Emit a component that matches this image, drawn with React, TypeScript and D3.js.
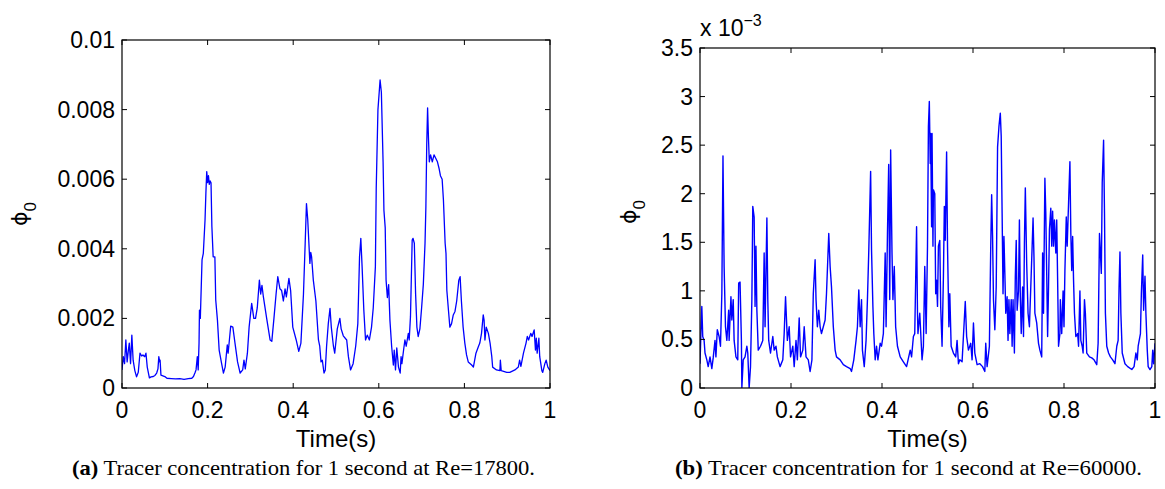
import React from 'react';
import * as d3 from 'd3';

// ---------- Data: panel (a) Re=17800, phi in units of 1e-3 ----------
const timeA = [
  0, 0.003, 0.006, 0.009, 0.012, 0.015, 0.017, 0.02, 0.023, 0.026, 0.03, 0.034, 0.038, 0.042, 0.046, 0.049,
  0.053, 0.056, 0.059, 0.064, 0.068, 0.073, 0.077, 0.081, 0.084, 0.086, 0.088, 0.089, 0.091, 0.1, 0.105, 0.115,
  0.125, 0.135, 0.145, 0.155, 0.163, 0.167, 0.171, 0.173, 0.176, 0.178, 0.18, 0.181, 0.183, 0.187, 0.19, 0.194,
  0.196, 0.198, 0.2, 0.202, 0.204, 0.206, 0.208, 0.21, 0.213, 0.217, 0.219, 0.223, 0.227, 0.232, 0.237, 0.241,
  0.246, 0.248, 0.254, 0.259, 0.264, 0.27, 0.276, 0.282, 0.285, 0.288, 0.293, 0.297, 0.303, 0.308, 0.312, 0.316,
  0.321, 0.324, 0.327, 0.33, 0.338, 0.346, 0.35, 0.355, 0.36, 0.364, 0.369, 0.373, 0.377, 0.381, 0.384, 0.39,
  0.394, 0.399, 0.407, 0.413, 0.418, 0.424, 0.428, 0.431, 0.434, 0.439, 0.441, 0.443, 0.447, 0.453, 0.459, 0.462,
  0.465, 0.468, 0.472, 0.475, 0.478, 0.482, 0.486, 0.489, 0.494, 0.497, 0.503, 0.509, 0.512, 0.517, 0.525, 0.529,
  0.534, 0.54, 0.546, 0.551, 0.555, 0.558, 0.561, 0.565, 0.569, 0.573, 0.578, 0.583, 0.587, 0.592, 0.594, 0.598,
  0.603, 0.606, 0.61, 0.612, 0.615, 0.617, 0.62, 0.623, 0.626, 0.63, 0.634, 0.636, 0.639, 0.642, 0.646, 0.65,
  0.652, 0.654, 0.658, 0.661, 0.664, 0.669, 0.671, 0.674, 0.678, 0.68, 0.683, 0.686, 0.689, 0.692, 0.696, 0.7,
  0.704, 0.708, 0.71, 0.712, 0.714, 0.716, 0.718, 0.721, 0.725, 0.729, 0.733, 0.737, 0.741, 0.744, 0.748, 0.751,
  0.755, 0.757, 0.759, 0.763, 0.766, 0.77, 0.774, 0.778, 0.782, 0.787, 0.79, 0.793, 0.797, 0.801, 0.805, 0.809,
  0.817, 0.821, 0.827, 0.833, 0.836, 0.84, 0.844, 0.846, 0.848, 0.851, 0.856, 0.86, 0.864, 0.866, 0.875, 0.883,
  0.884, 0.886, 0.899, 0.906, 0.918, 0.926, 0.929, 0.932, 0.938, 0.944, 0.947, 0.95, 0.955, 0.958, 0.963, 0.966,
  0.968, 0.97, 0.974, 0.976, 0.981, 0.983, 0.988, 0.991, 0.995, 1.0,
];
const phiA = [
  0.52, 0.9, 0.7, 1.38, 0.75, 1.1, 1.29, 0.7, 1.52, 0.8, 0.5, 0.32, 0.45, 1.0, 0.92, 0.95,
  0.9, 1.0, 0.6, 0.29, 0.32, 0.33, 0.36, 0.43, 0.55, 0.9, 0.75, 0.8, 0.37, 0.33, 0.28, 0.27,
  0.26, 0.27, 0.25, 0.27, 0.28, 0.33, 0.45, 0.52, 0.9, 0.52, 1.29, 2.24, 2.0, 3.68, 3.87, 4.83,
  5.6, 6.22, 5.9, 6.1, 5.85, 5.95, 5.9, 4.64, 3.77, 3.77, 2.53, 1.95, 1.09, 0.75, 0.43, 0.6,
  1.24, 1.0, 1.78, 1.75, 1.29, 0.75, 0.43, 0.52, 0.8, 0.55, 1.0, 1.75, 2.43, 2.0, 2.0, 2.3,
  3.1, 2.7, 2.95, 2.65, 2.0, 1.38, 1.34, 2.0, 2.7, 3.2, 2.85, 2.8, 2.5, 2.85, 2.62, 3.15,
  2.8, 1.75, 1.38, 1.05, 1.29, 2.7, 4.16, 5.3, 4.83, 3.58, 3.9, 3.77, 3.1, 2.5, 1.38, 1.2,
  0.75, 0.8, 0.43, 0.52, 1.2, 1.85, 2.29, 1.75, 1.2, 1.0, 1.7, 2.0, 1.7, 1.5, 1.38, 0.9,
  0.52, 0.7, 1.2, 1.85, 3.77, 4.3, 3.48, 2.24, 1.38, 1.52, 1.38, 1.75, 2.3, 3.48, 5.75, 8.0,
  8.85, 8.5, 6.5, 5.1, 4.6, 3.1, 2.6, 2.97, 1.95, 1.2, 0.66, 1.09, 0.52, 1.15, 0.6, 0.43,
  0.9, 0.7, 1.1, 1.38, 1.2, 1.57, 1.38, 2.05, 4.25, 4.3, 4.16, 2.7, 1.75, 1.48, 1.7, 2.3,
  2.97, 4.16, 5.2, 7.0, 8.05, 7.2, 6.5, 6.7, 6.5, 6.7, 6.6, 6.5, 6.3, 6.1, 6.0, 5.4,
  4.16, 3.87, 2.8, 2.2, 1.75, 1.85, 2.1, 2.2, 2.5, 3.1, 3.2, 2.5, 1.75, 1.29, 0.95, 0.75,
  0.66, 0.6, 1.0, 1.2, 1.29, 1.57, 2.1, 1.95, 1.38, 1.75, 1.57, 1.29, 0.9, 0.6, 0.52, 0.5,
  0.8, 0.5, 0.45, 0.45, 0.52, 0.6, 0.8, 0.62, 1.0, 1.29, 1.48, 1.38, 1.57, 1.48, 1.67, 1.09,
  1.43, 1.0, 1.43, 0.9, 0.5, 0.45, 0.7, 0.8, 0.6, 0.5,
];

// ---------- Data: panel (b) Re=60000, phi in units of 1e-3 ----------
const timeB = [
  0, 0.002, 0.004, 0.006, 0.009, 0.011, 0.015, 0.018, 0.022, 0.026, 0.029, 0.033, 0.035, 0.038, 0.042, 0.045,
  0.048, 0.0505, 0.053, 0.056, 0.059, 0.063, 0.064, 0.068, 0.07, 0.073, 0.075, 0.079, 0.083, 0.085, 0.088, 0.091,
  0.092, 0.095, 0.099, 0.103, 0.105, 0.108, 0.111, 0.114, 0.116, 0.119, 0.121, 0.123, 0.125, 0.128, 0.133, 0.138,
  0.141, 0.143, 0.147, 0.149, 0.151, 0.155, 0.16, 0.163, 0.167, 0.17, 0.176, 0.182, 0.185, 0.188, 0.192, 0.196,
  0.199, 0.204, 0.207, 0.211, 0.214, 0.218, 0.221, 0.226, 0.229, 0.233, 0.238, 0.242, 0.246, 0.249, 0.253, 0.255,
  0.258, 0.261, 0.264, 0.267, 0.271, 0.275, 0.278, 0.283, 0.286, 0.289, 0.293, 0.297, 0.3, 0.308, 0.315, 0.322,
  0.33, 0.333, 0.338, 0.343, 0.346, 0.349, 0.352, 0.355, 0.357, 0.361, 0.365, 0.368, 0.371, 0.375, 0.377, 0.38,
  0.382, 0.385, 0.388, 0.391, 0.396, 0.399, 0.403, 0.407, 0.409, 0.412, 0.4147, 0.417, 0.419, 0.422, 0.424, 0.427,
  0.43, 0.434, 0.44, 0.447, 0.454, 0.462, 0.465, 0.469, 0.472, 0.474, 0.476, 0.478, 0.479, 0.483, 0.488, 0.491,
  0.494, 0.497, 0.5, 0.502, 0.504, 0.506, 0.507, 0.509, 0.51, 0.512, 0.513, 0.516, 0.518, 0.52, 0.522, 0.524,
  0.527, 0.529, 0.532, 0.535, 0.537, 0.539, 0.542, 0.544, 0.547, 0.549, 0.552, 0.557, 0.562, 0.565, 0.568, 0.571,
  0.576, 0.583, 0.586, 0.59, 0.595, 0.598, 0.601, 0.604, 0.609, 0.615, 0.621, 0.626, 0.628, 0.631, 0.636, 0.639,
  0.641, 0.643, 0.645, 0.648, 0.651, 0.654, 0.657, 0.66, 0.662, 0.664, 0.666, 0.668, 0.67, 0.672, 0.675, 0.677,
  0.679, 0.681, 0.684, 0.686, 0.688, 0.691, 0.693, 0.695, 0.697, 0.7, 0.702, 0.704, 0.706, 0.709, 0.711, 0.713,
  0.715, 0.718, 0.721, 0.724, 0.727, 0.73, 0.732, 0.734, 0.736, 0.74, 0.744, 0.747, 0.751, 0.753, 0.755, 0.758,
  0.76, 0.762, 0.764, 0.766, 0.768, 0.771, 0.773, 0.775, 0.777, 0.779, 0.782, 0.784, 0.786, 0.788, 0.791, 0.792,
  0.795, 0.798, 0.8, 0.802, 0.805, 0.807, 0.81, 0.813, 0.815, 0.817, 0.819, 0.821, 0.823, 0.826, 0.83, 0.832,
  0.835, 0.837, 0.84, 0.842, 0.845, 0.847, 0.85, 0.856, 0.861, 0.866, 0.872, 0.875, 0.878, 0.88, 0.882, 0.884,
  0.887, 0.889, 0.891, 0.894, 0.898, 0.902, 0.907, 0.912, 0.916, 0.919, 0.921, 0.923, 0.925, 0.928, 0.934, 0.94,
  0.949, 0.954, 0.958, 0.961, 0.963, 0.968, 0.97, 0.973, 0.975, 0.978, 0.98, 0.983, 0.985, 0.989, 0.993, 0.995,
  0.997, 1.0,
];
const phiB = [
  0.25, 0.56, 0.84, 0.53, 0.49, 0.36, 0.29, 0.22, 0.32, 0.2, 0.31, 0.49, 0.32, 0.6, 0.53, 0.43,
  0.97, 2.39, 1.25, 0.63, 0.49, 0.8, 0.49, 0.94, 0.7, 0.91, 0.49, 0.32, 0.29, 1.08, 1.09, 0.49,
  0.0, 0.29, 0.32, 0.43, 0.36, 0.0, 0.22, 0.91, 1.87, 1.76, 0.84, 1.46, 0.8, 0.39, 0.43, 0.49,
  1.39, 0.63, 1.75, 0.91, 0.49, 0.36, 0.53, 0.39, 0.43, 0.32, 0.22, 0.29, 0.56, 0.94, 0.49, 0.63,
  0.32, 0.43, 0.22, 0.49, 0.29, 0.72, 0.32, 0.39, 0.63, 0.32, 0.29, 0.17, 0.29, 0.97, 1.32, 0.91,
  0.63, 0.8, 0.63, 0.56, 0.63, 0.7, 0.97, 1.59, 1.25, 1.04, 0.63, 0.39, 0.32, 0.29, 0.24, 0.22,
  0.2, 0.17, 0.29, 0.49, 0.63, 1.01, 0.63, 0.91, 0.39, 0.22, 0.49, 0.91, 1.42, 2.23, 1.42, 0.84,
  0.56, 0.29, 0.43, 0.29, 0.46, 0.43, 0.56, 1.39, 0.63, 1.59, 2.3, 0.91, 2.45, 1.39, 0.91, 1.25,
  0.63, 0.43, 0.32, 0.27, 0.22, 0.39, 0.32, 0.53, 0.56, 1.11, 1.66, 0.77, 0.56, 0.77, 0.29, 0.43,
  1.25, 0.56, 1.46, 2.69, 2.95, 2.31, 2.62, 1.66, 2.62, 1.46, 2.04, 2.0, 0.97, 1.11, 0.84, 1.46,
  1.52, 0.84, 0.43, 1.15, 1.87, 1.52, 2.43, 1.46, 0.63, 0.97, 0.43, 0.36, 0.32, 0.49, 0.25, 0.29,
  0.27, 0.89, 0.53, 0.39, 0.46, 0.29, 0.67, 0.36, 0.24, 0.25, 0.22, 0.17, 0.46, 0.22, 0.43, 1.46,
  1.99, 1.56, 0.91, 0.6, 1.04, 2.48, 2.69, 2.83, 2.59, 1.8, 0.97, 1.56, 1.18, 0.77, 0.94, 0.49,
  0.91, 0.56, 0.91, 0.43, 0.91, 0.36, 1.15, 1.52, 0.8, 1.0, 1.73, 0.94, 0.56, 1.04, 0.53, 1.49,
  2.06, 1.28, 0.77, 0.63, 1.04, 1.46, 1.75, 1.35, 0.77, 0.67, 0.46, 0.39, 0.32, 1.39, 0.77, 2.16,
  1.8, 1.18, 0.53, 1.04, 1.63, 1.85, 1.46, 1.82, 1.46, 1.73, 1.39, 1.73, 1.11, 0.43, 0.56, 0.91,
  0.56, 1.0, 0.63, 1.21, 1.76, 1.46, 1.9, 2.33, 1.59, 1.21, 1.56, 1.11, 0.77, 0.53, 0.56, 0.43,
  1.0, 0.49, 0.43, 0.36, 0.91, 0.77, 0.36, 0.32, 0.31, 0.29, 0.24, 0.46, 1.59, 1.39, 1.18, 2.11,
  2.55, 1.8, 0.77, 0.43, 0.36, 0.32, 0.29, 0.25, 0.43, 0.49, 1.04, 1.4, 0.77, 0.36, 0.25, 0.22,
  0.19, 0.22, 0.36, 0.29, 0.43, 0.56, 0.97, 1.37, 0.8, 1.15, 0.77, 0.39, 0.22, 0.19, 0.22, 0.39,
  0.25, 0.46,
];

// ---------- Axis ticks ----------
const xTicks = [0, 0.2, 0.4, 0.6, 0.8, 1];
const xTickLabels = ['0', '0.2', '0.4', '0.6', '0.8', '1'];
const yTicksA = [0, 2, 4, 6, 8, 10];
const yTickLabelsA = ['0', '0.002', '0.004', '0.006', '0.008', '0.01'];
const yTicksB = [0, 0.5, 1, 1.5, 2, 2.5, 3, 3.5];
const yTickLabelsB = ['0', '0.5', '1', '1.5', '2', '2.5', '3', '3.5'];

const xLabel = 'Time(s)';
const captionA = { tag: '(a)', text: ' Tracer concentration for 1 second at Re=17800.' };
const captionB = { tag: '(b)', text: ' Tracer concentration for 1 second at Re=60000.' };

const SANS = '"Liberation Sans", Arial, Helvetica, sans-serif';
const SERIF = '"Liberation Serif", "Times New Roman", serif';
const BLUE = '#0000ff';

type PanelProps = {
  id: string;
  left: number; right: number; top: number; bottom: number;
  times: number[]; values: number[];
  yMax: number; yTicks: number[]; yLabels: string[];
  ylabX: number; ylabY: number;
  exponent?: boolean;
  caption: { tag: string; text: string };
  capX: number; capLen: number;
  strokeW: number;
};

function Panel(p: PanelProps) {
  const x = d3.scaleLinear().domain([0, 1]).range([p.left, p.right]);
  const y = d3.scaleLinear().domain([0, p.yMax]).range([p.bottom, p.top]);
  const line = d3.line<number>()
    .x((_, i) => x(p.times[i]))
    .y((d) => y(d));
  const path = line(p.values) || '';
  const tl = 5;
  const fs = 23;
  return (
    <g>
      <defs>
        <clipPath id={`clip-${p.id}`}>
          <rect x={p.left} y={p.top} width={p.right - p.left} height={p.bottom - p.top} />
        </clipPath>
      </defs>
      <path d={path} fill="none" stroke={BLUE} strokeWidth={p.strokeW} strokeLinejoin="round"
        clipPath={`url(#clip-${p.id})`} />
      <rect x={p.left} y={p.top} width={p.right - p.left} height={p.bottom - p.top}
        fill="none" stroke="#000" strokeWidth={1.2} />
      {xTicks.map((t, i) => (
        <g key={`xt${i}`}>
          <line x1={x(t)} x2={x(t)} y1={p.bottom} y2={p.bottom - tl} stroke="#000" strokeWidth={1} />
          <line x1={x(t)} x2={x(t)} y1={p.top} y2={p.top + tl} stroke="#000" strokeWidth={1} />
          <text x={x(t)} y={p.bottom + 30} textAnchor="middle" fontFamily={SANS} fontSize={fs}>
            {xTickLabels[i]}
          </text>
        </g>
      ))}
      {p.yTicks.map((v, i) => (
        <g key={`yt${i}`}>
          <line x1={p.left} x2={p.left + tl} y1={y(v)} y2={y(v)} stroke="#000" strokeWidth={1} />
          <line x1={p.right} x2={p.right - tl} y1={y(v)} y2={y(v)} stroke="#000" strokeWidth={1} />
          <text x={p.left - 7} y={y(v) + 8} textAnchor="end" fontFamily={SANS} fontSize={fs}>
            {p.yLabels[i]}
          </text>
        </g>
      ))}
      <text x={(p.left + p.right) / 2} y={p.bottom + 59} textAnchor="middle" fontFamily={SANS} fontSize={24}>
        {xLabel}
      </text>
      <text transform={`translate(${p.ylabX},${p.ylabY}) rotate(-90)`} textAnchor="middle"
        fontFamily={SANS} fontSize={24}>
        <tspan fontFamily='"DejaVu Sans", sans-serif' fontSize={22}>ϕ</tspan><tspan fontSize={17} dy={9}>0</tspan>
      </text>
      {p.exponent && (
        <text x={p.left} y={p.top - 12} fontFamily={SANS} fontSize={fs}>
          x 10<tspan fontSize={16} dy={-10}>−3</tspan>
        </text>
      )}
      <text x={p.capX} y={475} fontFamily={SERIF} fontSize={21} textLength={p.capLen}
        lengthAdjust="spacingAndGlyphs">
        <tspan fontWeight="bold">{p.caption.tag}</tspan>{p.caption.text}
      </text>
    </g>
  );
}

export default function App() {
  return (
    <svg width={1165} height={489} style={{ position: 'absolute', left: 0, top: 0, background: '#fff' }}>
      <rect x={0} y={0} width={1165} height={489} fill="#fff" />
      <Panel id="a" left={122} right={550} top={40} bottom={388}
        times={timeA} values={phiA} yMax={10} yTicks={yTicksA} yLabels={yTickLabelsA}
        ylabX={27} ylabY={214} caption={captionA} capX={72} capLen={463} strokeW={1.3} />
      <Panel id="b" left={700} right={1155} top={48} bottom={388}
        times={timeB} values={phiB} yMax={3.5} yTicks={yTicksB} yLabels={yTickLabelsB}
        ylabX={636} ylabY={212} exponent caption={captionB} capX={675} capLen={467} strokeW={1.4} />
    </svg>
  );
}
